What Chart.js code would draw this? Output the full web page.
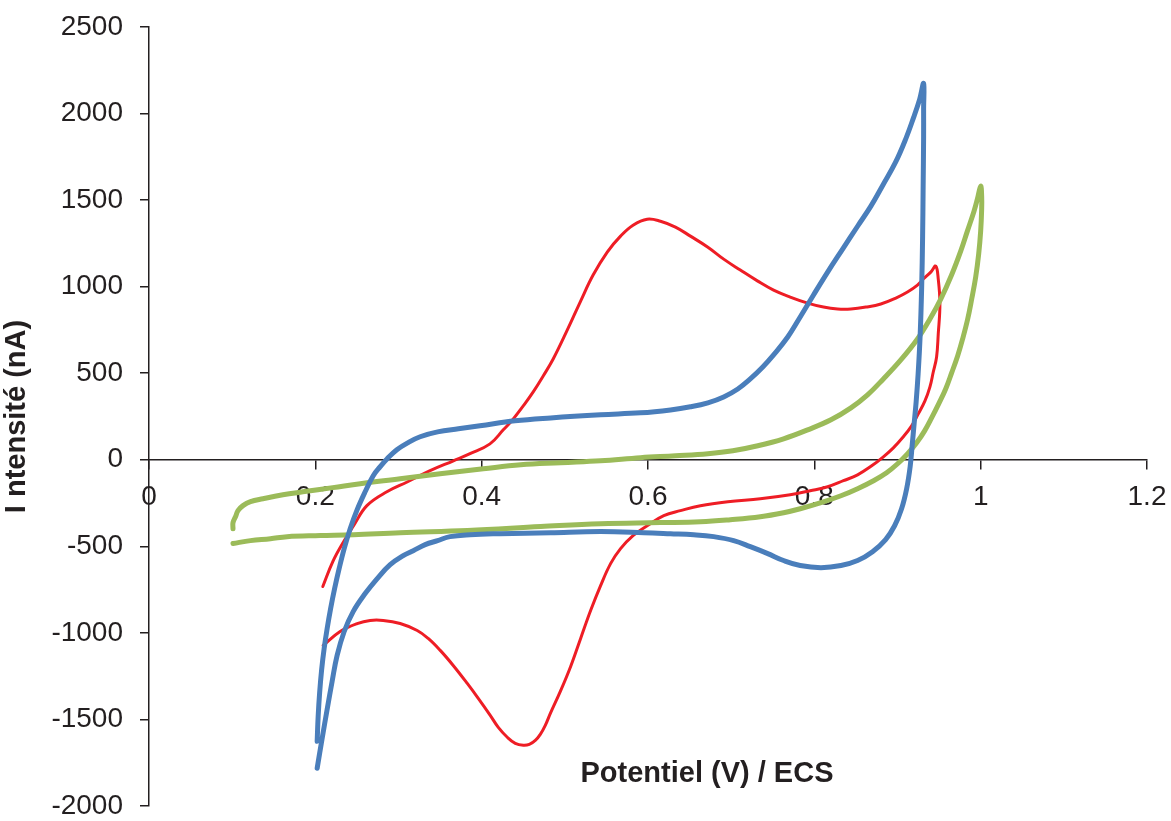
<!DOCTYPE html>
<html>
<head>
<meta charset="utf-8">
<script src="https://cdn.jsdelivr.net/npm/chart.js@4.4.0/dist/chart.umd.min.js"></script>
<style>
    body { margin: 0; background: #fff; }
    #wrap { position: relative; width: 1171px; height: 821px; }
    #x-title {
        position: absolute;
        left: 707px;
        top: 772px;
        transform: translate(-50%, -50%);
        font: bold 29px 'Liberation Sans', Arial, sans-serif;
        color: #231f20;
        white-space: nowrap;
    }
</style>
</head>
<body>
<div id="wrap">
    <canvas id="cv" width="1171" height="821"></canvas>
    <div id="x-title">Potentiel (V) / ECS</div>
</div>
<script>
// potential (V) and current (nA), in sweep order
const redV = [0.209, 0.221, 0.234, 0.246, 0.262, 0.286, 0.311, 0.338, 0.366, 0.386, 0.410, 0.426, 0.438, 0.450, 0.462, 0.474, 0.486, 0.503, 0.519, 0.534, 0.551, 0.567, 0.582, 0.599, 0.615, 0.633, 0.651, 0.672, 0.691, 0.711, 0.732, 0.751, 0.771, 0.792, 0.811, 0.828, 0.844, 0.862, 0.880, 0.898, 0.912, 0.924, 0.931, 0.940, 0.946,
    0.949, 0.951, 0.949, 0.947, 0.943, 0.939, 0.933, 0.925, 0.917, 0.907, 0.895, 0.883, 0.869, 0.852, 0.835, 0.816, 0.795, 0.771, 0.735, 0.696, 0.663, 0.639, 0.619, 0.599, 0.582, 0.567, 0.555, 0.543, 0.531, 0.519, 0.507,
    0.4946, 0.4826, 0.4765, 0.4705, 0.4645, 0.4573, 0.4501, 0.4404, 0.4308, 0.4200, 0.4103, 0.3959, 0.3827, 0.3658, 0.3502, 0.3357, 0.3225, 0.3020, 0.2816, 0.2659, 0.2503, 0.2298, 0.2094]
const redI = [-732, -588, -473, -381, -265, -185, -127, -63, -6, 35, 92, 173, 236, 311, 392, 484, 582, 750, 917, 1067, 1200, 1292, 1355, 1390, 1378, 1344, 1292, 1228, 1159, 1096, 1032, 980, 940, 905, 882, 871, 871, 882, 900, 934, 969, 1009, 1044, 1084, 1119,
    1044, 900, 727, 594, 507, 421, 340, 265, 196, 133, 69, 17, -35, -87, -121, -156, -179, -202, -225, -242, -265, -294, -323, -381, -438, -513, -600, -727, -871, -1032, -1194,
    -1338, -1465, -1534, -1586, -1621, -1644, -1649, -1638, -1603, -1546, -1476, -1378, -1292, -1188, -1101, -1032, -986, -946, -928, -928, -946, -992, -1073]

const blueV = [0.2022, 0.2034, 0.2052, 0.2076, 0.2106, 0.2142, 0.2184, 0.2232, 0.2286, 0.2347, 0.2419, 0.2503, 0.2599, 0.2696, 0.278, 0.2864, 0.298, 0.311, 0.326, 0.347, 0.372, 0.398, 0.440, 0.483, 0.543, 0.591, 0.627, 0.651, 0.672, 0.691, 0.708, 0.723, 0.738, 0.751, 0.768, 0.783, 0.799, 0.816, 0.834, 0.852, 0.868, 0.883, 0.8977, 0.9097, 0.9194, 0.9266, 0.9314,
    0.9314, 0.9314, 0.9308, 0.9302, 0.9290, 0.9272, 0.9248, 0.9224, 0.9200, 0.9176, 0.9152, 0.9110, 0.9049, 0.8965, 0.8857, 0.870, 0.852, 0.832, 0.808, 0.783, 0.763, 0.744, 0.723, 0.703, 0.679, 0.655, 0.627, 0.595, 0.543, 0.483, 0.422, 0.386, 0.362, 0.347, 0.3321, 0.3177, 0.3057, 0.2900, 0.2744, 0.2599, 0.2455, 0.2347, 0.2262, 0.2202, 0.2142, 0.2082, 0.2022]
const blueI = [-1626, -1482, -1344, -1211, -1090, -975, -859, -744, -629, -513, -398, -288, -185, -92, -40, 6, 58, 98, 133, 161, 179, 196, 225, 242, 260, 271, 288, 306, 329, 363, 409, 467, 536, 606, 709, 825, 952, 1084, 1217, 1349, 1465, 1592, 1719, 1851, 1978, 2082, 2174,
    2024, 1868, 1563, 1292, 986, 715, 496, 334, 208, 81, -40, -167, -283, -381, -461, -531, -582, -611, -623, -611, -582, -542, -502, -467, -444, -433, -427, -421, -415, -421, -427, -433, -444, -467, -490, -525, -554, -606, -686, -773, -877, -992, -1130, -1280, -1442, -1609, -1782]

const greenV = [0.101, 0.122, 0.146, 0.166, 0.206, 0.246, 0.302, 0.383, 0.471, 0.543, 0.615, 0.663, 0.699, 0.735, 0.763, 0.783, 0.808, 0.832, 0.852, 0.8712, 0.8869, 0.9001, 0.9122, 0.9230, 0.9326, 0.9410, 0.9495, 0.9579, 0.9651, 0.9723, 0.9783, 0.9844, 0.9892, 0.9940, 0.9976, 1.0000, 1.0012, 1.0012, 1.0000,
    0.996, 0.992, 0.984, 0.976, 0.965, 0.952, 0.939, 0.924, 0.904, 0.883, 0.864, 0.844, 0.820, 0.792, 0.763, 0.732, 0.702, 0.672, 0.633, 0.591, 0.543, 0.495, 0.447, 0.402, 0.350, 0.302, 0.254, 0.221, 0.185, 0.161, 0.137, 0.122, 0.113, 0.107, 0.104, 0.101, 0.101]
const greenI = [-484, -467, -456, -444, -438, -433, -421, -409, -386, -369, -363, -358, -346, -329, -306, -283, -248, -208, -167, -121, -75, -23, 35, 98, 167, 242, 323, 409, 502, 600, 698, 813, 928, 1055, 1188, 1321, 1448, 1523, 1580,
    1505, 1436, 1321, 1205, 1067, 928, 813, 698, 577, 467, 375, 300, 231, 173, 121, 81, 52, 35, 23, 12, -6, -17, -29, -52, -81, -110, -138, -161, -185, -202, -225, -242, -265, -294, -329, -363, -398]

const xTicks = [0, 0.2, 0.4, 0.6, 0.8, 1, 1.2]
const yTicks = [-2000, -1500, -1000, -500, 0, 500, 1000, 1500, 2000, 2500]

const FONT = "'Liberation Sans', Arial, sans-serif"
const INK = '#231f20'

function points(xs, ys) {
    return xs.map((x, i) => ({ x: x, y: ys[i] }))
}

function series(xs, ys, color, width, order) {
    return {
        data: points(xs, ys),
        borderColor: color,
        backgroundColor: color,
        borderWidth: width,
        showLine: true,
        pointRadius: 0,
        tension: 0.4,
        borderCapStyle: 'round',
        borderJoinStyle: 'round',
        order: order
    }
}

// let layout.padding alone decide where the plot area sits
function noPadding(axis) {
    axis.paddingTop = 0
    axis.paddingBottom = 0
    axis.paddingLeft = 0
    axis.paddingRight = 0
}

new Chart(document.getElementById('cv'), {
    type: 'scatter',
    data: {
        datasets: [
            series(redV, redI, '#ee1d25', 3, 3),
            series(greenV, greenI, '#9bbb59', 5, 2),
            series(blueV, blueI, '#4a7ebb', 5, 1)
        ]
    },
    options: {
        responsive: false,
        animation: false,
        layout: { padding: { top: 27, right: 24, bottom: 15, left: 0 } },
        plugins: {
            legend: { display: false },
            tooltip: { enabled: false }
        },
        scales: {
            x: {
                type: 'linear',
                min: 0,
                max: 1.2,
                position: { y: 0 },
                afterBuildTicks: axis => { axis.ticks = xTicks.map(v => ({ value: v })) },
                afterFit: noPadding,
                ticks: {
                    callback: v => String(Math.round(v * 10) / 10),
                    font: { family: FONT, size: 28 },
                    color: INK,
                    padding: 12,
                    maxRotation: 0
                },
                grid: { drawOnChartArea: false, drawTicks: true, tickLength: 9, color: INK, lineWidth: 1.5 },
                border: { display: true, color: INK, width: 1.5 }
            },
            y: {
                type: 'linear',
                min: -2000,
                max: 2500,
                afterBuildTicks: axis => { axis.ticks = yTicks.map(v => ({ value: v })) },
                afterFit: axis => {
                    noPadding(axis)
                    axis.width = 149
                },
                ticks: {
                    callback: v => String(v),
                    font: { family: FONT, size: 28 },
                    color: INK,
                    padding: 17
                },
                title: {
                    display: true,
                    text: 'I ntensité (nA)',
                    font: { family: FONT, size: 29, weight: 'bold' },
                    color: INK,
                    padding: { top: 0, bottom: 0 }
                },
                grid: { drawOnChartArea: false, drawTicks: true, tickLength: 9, color: INK, lineWidth: 1.5 },
                border: { display: true, color: INK, width: 1.5 }
            }
        }
    }
})
</script>
</body>
</html>
